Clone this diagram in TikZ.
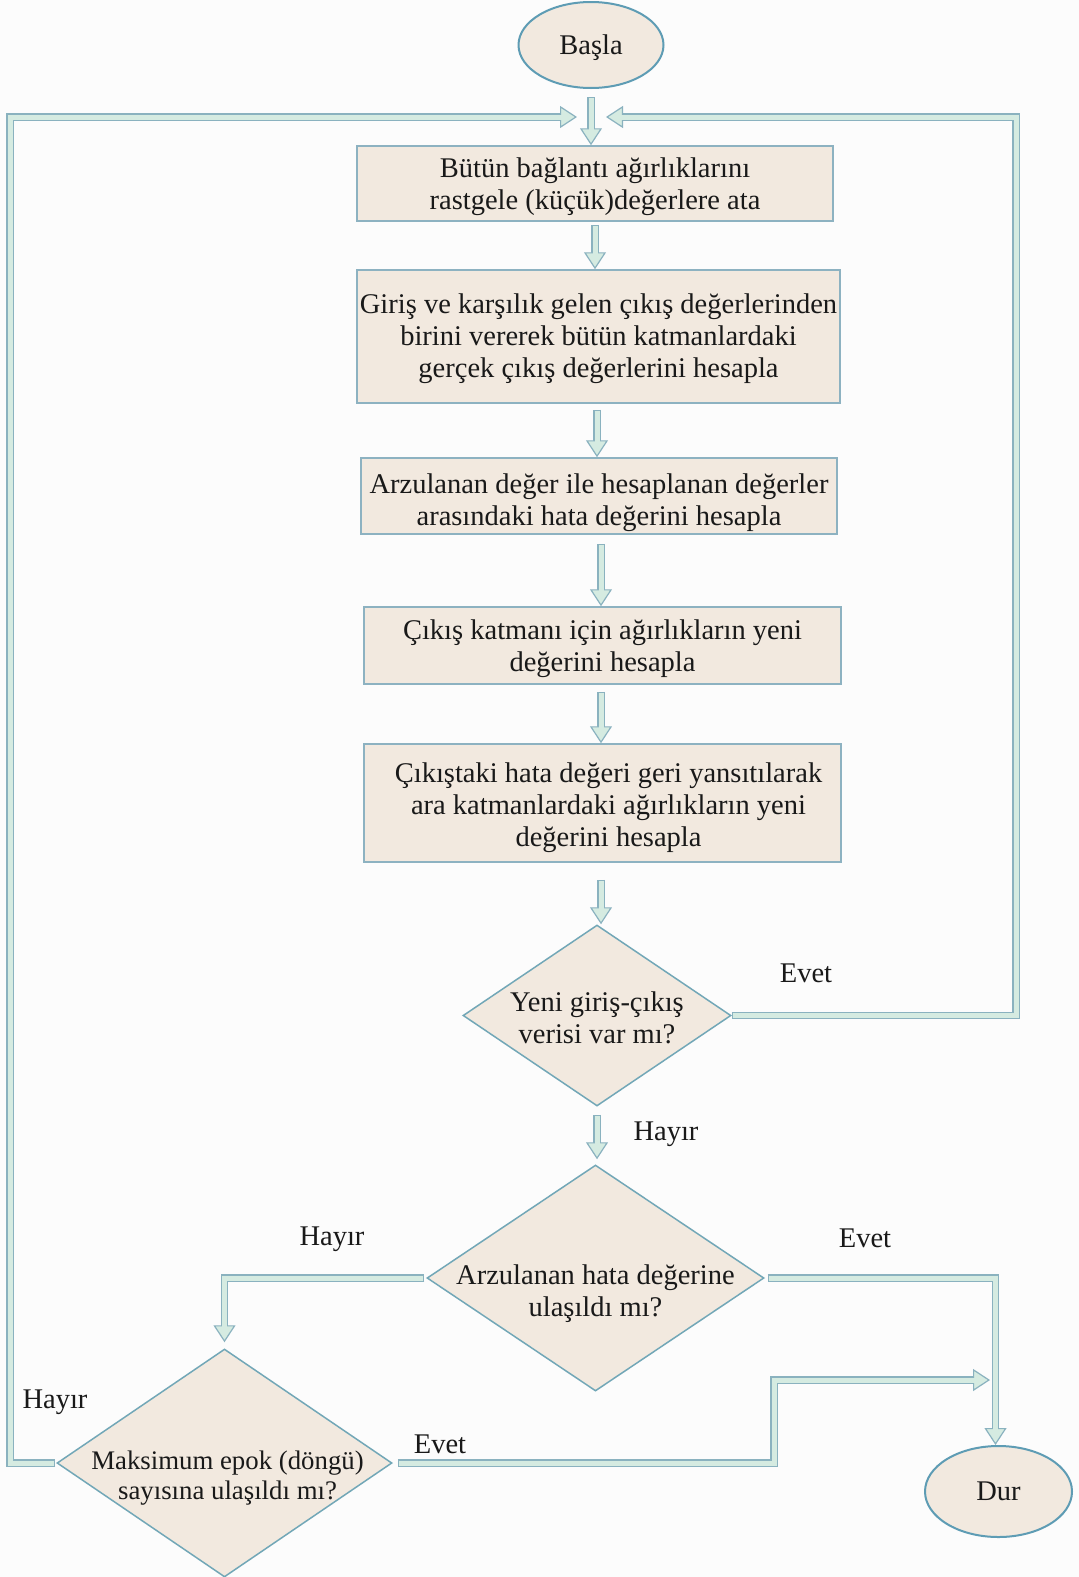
\documentclass[tikz,border=0pt]{standalone}
\usepackage{fontspec}
\setmainfont{Liberation Serif}
\usetikzlibrary{shapes.geometric,arrows.meta}

\definecolor{bg}{HTML}{FCFCFC}
\definecolor{boxfill}{HTML}{F2E9DF}
\definecolor{boxedge}{HTML}{8DB2C1}
\definecolor{ovaledge}{HTML}{5E9CB4}
\definecolor{diaedge}{HTML}{72A7B7}
\definecolor{pipefill}{HTML}{D5EBE1}
\definecolor{pipeedge}{HTML}{8AB2BF}

\tikzset{
  txt/.style={font=\fontsize{28.5}{32}\selectfont, text=black!90},
  inner/.style={txt, align=center},
  stepbox/.style={rectangle, draw=boxedge, fill=boxfill, line width=1.5pt, inner sep=0pt},
  oval/.style={txt, ellipse, draw=ovaledge, fill=boxfill, line width=2pt, inner sep=0pt,
    text depth=0pt},
  choice/.style={diamond, draw=diaedge, fill=boxfill, line width=1.5pt, inner sep=0pt},
  pipe/.style={draw=pipeedge, line width=7.5pt, line join=miter,
    -{Triangle[length=17pt,width=22pt,fill=pipefill,color=pipeedge,line width=1.2pt]},
    postaction={draw=pipefill, line width=5pt, arrows=-, shorten >=15pt, shorten <=1.2pt}},
  tag/.style={txt}
}

\begin{document}
\begin{tikzpicture}[x=1pt,y=-1pt]
  \path[fill=bg] (0,0) rectangle (1079,1577);
  \useasboundingbox (0,0) rectangle (1079,1577);

  % start and end ovals
  \node[oval, minimum width=145pt, minimum height=86pt] (start) at (591,45) {Başla};
  \node[oval, minimum width=147pt, minimum height=91pt] (stop) at (998.5,1491.5) {Dur};

  % process steps
  \node[stepbox, minimum width=476pt, minimum height=75pt,
        label={[inner, yshift=-3pt]center:Bütün bağlantı ağırlıklarını\\rastgele (küçük)değerlere ata}]
        (b1) at (595,183.5) {};
  \node[stepbox, minimum width=483pt, minimum height=133pt,
        label={[inner, yshift=-2pt]center:Giriş ve karşılık gelen çıkış değerlerinden\\birini vererek bütün katmanlardaki\\gerçek çıkış değerlerini hesapla}]
        (b2) at (598.5,336.5) {};
  \node[stepbox, minimum width=476pt, minimum height=76pt,
        label={[inner, yshift=-7pt]center:Arzulanan değer ile hesaplanan değerler\\arasındaki hata değerini hesapla}]
        (b3) at (599,496) {};
  \node[stepbox, minimum width=477pt, minimum height=77pt,
        label={[inner, yshift=-3pt]center:Çıkış katmanı için ağırlıkların yeni\\değerini hesapla}]
        (b4) at (602.5,645.5) {};
  \node[stepbox, minimum width=477pt, minimum height=118pt,
        label={[inner, yshift=-5pt, xshift=6pt]center:Çıkıştaki hata değeri geri yansıtılarak\\ara katmanlardaki ağırlıkların yeni\\değerini hesapla}]
        (b5) at (602.5,803) {};

  % decisions
  \node[choice, minimum width=268pt, minimum height=181pt,
        label={[inner, yshift=-2pt]center:Yeni giriş-çıkış\\verisi var mı?}]
        (d1) at (597,1015.5) {};
  \node[choice, minimum width=337pt, minimum height=226pt,
        label={[inner, yshift=-16pt]center:Arzulanan hata değerine\\ulaşıldı mı?}]
        (d2) at (595.5,1278) {};
  \node[choice, minimum width=335pt, minimum height=228pt,
        label={[inner, font=\fontsize{26.8}{30}\selectfont, yshift=-15pt, xshift=3pt]center:Maksimum epok (döngü)\\sayısına ulaşıldı mı?}]
        (d3) at (224.5,1463) {};

  % merge points
  \coordinate (lt) at (577,117);
  \coordinate (rt) at (606,117);
  \coordinate (mj) at (990,1380);

  % main flow
  \draw[pipe] ([yshift=-8pt]start.south) -- (start.south |- b1.north);
  \draw[pipe] ([yshift=-3pt]b1.south) -- (b1.south |- b2.north);
  \draw[pipe] ([xshift=-1.5pt,yshift=-6pt]b2.south) -- ([xshift=-1.5pt]b2.south |- b3.north);
  \draw[pipe] ([xshift=2pt,yshift=-9pt]b3.south) -- ([xshift=2pt]b3.south |- b4.north);
  \draw[pipe] ([xshift=-1.5pt,yshift=-7pt]b4.south) -- ([xshift=-1.5pt]b4.south |- b5.north);
  \draw[pipe] ([xshift=-1.5pt,yshift=-17pt]b5.south) -- ([xshift=-1.5pt]b5.south |- d1.north);
  \draw[pipe] ([yshift=-8pt]d1.south) -- ([yshift=5pt]d1.south |- d2.north);

  % branches
  \draw[pipe] (d1.east) -| (1016,117) -- (rt);
  \draw[pipe] ([xshift=-2pt]d2.west) -| ([yshift=6pt]d3.north);
  \draw[pipe] ([xshift=3pt]d2.east) -| ([xshift=-3pt]stop.north);
  \draw[pipe] ([xshift=5pt]d3.east) -- (774,1463) |- (mj);
  \draw[pipe] ([xshift=-1pt]d3.west) -| (10,117) -- (lt);

  % branch labels
  \node[tag] (e1) at (806,973) {Evet};
  \node[tag] (h1) at (666,1134) {Hayır};
  \node[tag] (h2) at (332,1239) {Hayır};
  \node[tag] (e2) at (865,1238) {Evet};
  \node[tag] (h3) at (55,1402) {Hayır};
  \node[tag] (e3) at (440,1444) {Evet};
\end{tikzpicture}
\end{document}
